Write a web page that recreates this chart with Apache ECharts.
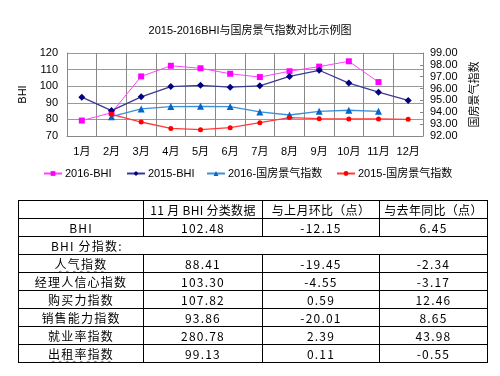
<!DOCTYPE html>
<html>
<head>
<meta charset="utf-8">
<script src="https://cdn.jsdelivr.net/npm/echarts@6/dist/echarts.min.js"></script>
<style>
  html, body { margin: 0; padding: 0; background: #fff; }
  #wrap { position: relative; width: 500px; height: 376px; }
  #chart { position: absolute; left: 0; top: 0; width: 500px; height: 376px; }
  #tbl {
    position: absolute; left: 18px; top: 200px; border-collapse: collapse; table-layout: fixed;
    font-family: "Noto Sans CJK SC", sans-serif; font-size: 12px; color: #000;
    letter-spacing: 1.2px;
  }
  #tbl td { border: 1px solid #000; height: 17px; padding: 0; text-align: center; line-height: 16px; white-space: nowrap; overflow: hidden; }
  #tbl tr:first-child td { letter-spacing: 0.3px; }
  .wavy { text-decoration: underline wavy #3a9a3a; text-underline-offset: 1px; text-decoration-thickness: 1px; }
</style>
</head>
<body>
<div id="wrap">
  <div id="chart"></div>
  <table id="tbl"></table>
</div>
<script>
// 月份
var months = ["1月", "2月", "3月", "4月", "5月", "6月", "7月", "8月", "9月", "10月", "11月", "12月"];
// BHI (左轴)
var bhi2016 = [79.3, 84, 105.9, 112.3, 110.8, 107.5, 105.5, 109, 111.8, 115, 102.48, null];
var bhi2015 = [93.4, 85.3, 93.6, 99.8, 100.5, 99.4, 100.2, 105.9, 109.6, 101.9, 96.4, 91.4];
// 国房景气指数 (右轴)
var gf2016 = [null, 93.63, 94.28, 94.48, 94.5, 94.48, 94.03, 93.77, 94.08, 94.17, 94.08, null];
var gf2015 = [null, 93.83, 93.18, 92.64, 92.53, 92.7, 93.12, 93.55, 93.46, 93.44, 93.44, 93.41];

// 表格数据
var tableHead = ["", "11 月 BHI 分类数据", "与上月环比（点）", "与去年同比（点）"];
var rowNames = ["人气指数", "经理人信心指数", "购买力指数", "销售能力指数", "就业率指数", "出租率指数"];
var curValues = ["88.41", "103.30", "107.82", "93.86", "280.78", "99.13"];
var momValues = ["-19.45", "-4.55", "0.59", "-20.01", "2.39", "0.11"];
var yoyValues = ["-2.34", "-3.17", "12.46", "8.65", "43.98", "-0.55"];
var bhiRow = ["BHI", "102.48", "-12.15", "6.45"];

var colW = [124, 118, 116, 107];
var html = "<colgroup>";
colW.forEach(function (w) { html += '<col style="width:' + (w + 1) + 'px">'; });
html += "</colgroup><tr>";
tableHead.forEach(function (h) { html += "<td>" + h + "</td>"; });
html += "</tr><tr>";
bhiRow.forEach(function (v) { html += "<td>" + v + "</td>"; });
html += '</tr><tr><td colspan="4" style="text-align:left;padding-left:32px">BHI 分指数:</td></tr>';
rowNames.forEach(function (n, i) {
  var cls = (n === "人气指数" || n === "出租率指数") ? ' class="wavy"' : "";
  html += "<tr><td><span" + cls + ">" + n + "</span></td><td>" + curValues[i] + "</td><td>" +
    momValues[i] + "</td><td>" + yoyValues[i] + "</td></tr>";
});
document.getElementById("tbl").innerHTML = html;

var myChart = echarts.init(document.getElementById("chart"));
var font = "Arial, 'Liberation Sans', 'Noto Sans CJK SC', sans-serif";
var legendNames = ["2016-BHI", "2015-BHI", "2016-国房景气指数", "2015-国房景气指数"];
var legendLeft = [38, 121, 201, 331];

myChart.setOption({
  backgroundColor: "#fff",
  animation: false,
  title: {
    text: "2015-2016BHI与国房景气指数对比示例图",
    left: "center",
    top: 20,
    textStyle: { fontSize: 11, fontWeight: "normal", color: "#000", fontFamily: font }
  },
  legend: legendNames.map(function (n, i) {
    return {
      top: 163,
      left: legendLeft[i],
      itemWidth: 18,
      itemHeight: 6,
      itemGap: 0,
      textStyle: { fontSize: 11, color: "#000", fontFamily: font, padding: [0, 0, 0, -2] },
      data: [n]
    };
  }),
  grid: { left: 67, right: 77, top: 53, height: 83, outerBoundsMode: "none" },
  xAxis: {
    type: "category",
    data: months,
    boundaryGap: true,
    axisLine: { lineStyle: { color: "#888" } },
    axisTick: { show: false },
    axisLabel: { color: "#000", fontSize: 11, margin: 10, interval: 0, fontFamily: font },
    splitLine: { show: true, interval: 0, lineStyle: { color: "#888" } }
  },
  yAxis: [
    {
      type: "value",
      name: "BHI",
      nameLocation: "middle",
      nameRotate: 90,
      nameGap: 32,
      nameTextStyle: { color: "#000", fontSize: 11, fontFamily: font },
      min: 70, max: 120, interval: 10,
      axisLine: { show: true, lineStyle: { color: "#888" } },
      axisTick: { show: false },
      axisLabel: { color: "#000", fontSize: 11, margin: 9, fontFamily: font },
      splitLine: { lineStyle: { color: "#999" } }
    },
    {
      type: "value",
      name: "国房景气指数",
      nameLocation: "middle",
      nameRotate: 90,
      nameGap: 46,
      nameTextStyle: { color: "#000", fontSize: 11, fontFamily: font },
      min: 92, max: 99, interval: 1,
      axisLine: { show: true, lineStyle: { color: "#888" } },
      axisTick: { show: true, inside: true, length: 3, lineStyle: { color: "#888" } },
      axisLabel: {
        color: "#000", fontSize: 11, margin: 7, fontFamily: font,
        formatter: function (v) { return v.toFixed(2); }
      },
      splitLine: { show: false }
    }
  ],
  series: [
    {
      name: "2016-BHI", type: "line", yAxisIndex: 0, data: bhi2016,
      symbol: "rect", symbolSize: 6,
      itemStyle: { color: "#ff00ff" }, lineStyle: { color: "#ff44ff", width: 1 }
    },
    {
      name: "2015-BHI", type: "line", yAxisIndex: 0, data: bhi2015,
      symbol: "diamond", symbolSize: 7,
      itemStyle: { color: "#000080" }, lineStyle: { color: "#3a3a96", width: 1.3 }
    },
    {
      name: "2016-国房景气指数", type: "line", yAxisIndex: 1, data: gf2016,
      symbol: "triangle", symbolSize: 7,
      itemStyle: { color: "#0066cc" }, lineStyle: { color: "#3d8fd8", width: 1.3 }
    },
    {
      name: "2015-国房景气指数", type: "line", yAxisIndex: 1, data: gf2015,
      symbol: "circle", symbolSize: 5,
      itemStyle: { color: "#ff0000" }, lineStyle: { color: "#ff3b3b", width: 1.3 }
    }
  ]
});
</script>
</body>
</html>
